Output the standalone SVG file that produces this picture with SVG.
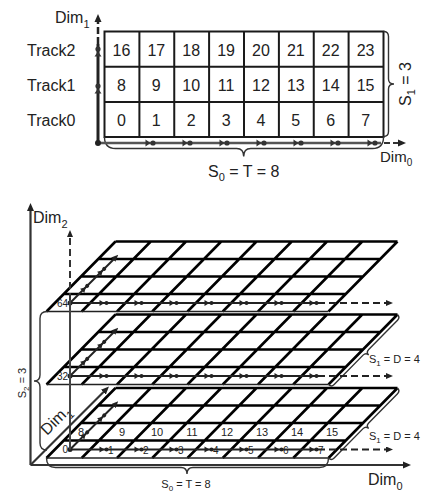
<svg xmlns="http://www.w3.org/2000/svg" xmlns:xlink="http://www.w3.org/1999/xlink" width="423" height="497" viewBox="0 0 423 497">
<style>
text{font-family:"Liberation Sans",Arial,sans-serif;fill:#222}
.t16{font-size:16px}
.t15{font-size:15px}
.t11{font-size:11px}
.t10{font-size:10px}
.grid{fill:none;stroke:#1a1a1a;stroke-width:2}
.pg{fill:none;stroke:#000;stroke-width:2.6}
.pe{fill:none;stroke:#222;stroke-width:1.4}
.brace{fill:none;stroke:#333;stroke-width:1.4}
.ax{fill:none;stroke:#333;stroke-width:2.2}
.trk{fill:none;stroke:#222;stroke-width:2}
.dash{stroke-dasharray:7 4}
</style>
<defs>
<marker id="ah" viewBox="0 0 8 8" refX="1" refY="4" markerWidth="8" markerHeight="8" markerUnits="userSpaceOnUse" orient="auto"><path d="M0,0.5L8,4L0,7.5z" fill="#222"/></marker>
<marker id="ahs" viewBox="0 0 7 6" refX="1" refY="3" markerWidth="7" markerHeight="6" markerUnits="userSpaceOnUse" orient="auto"><path d="M0,0L7,3L0,6z" fill="#222"/></marker>
<g id="mk"><path d="M-2.5,-3.5L2.5,0L-2.5,3.5z"/><circle cx="5" cy="0" r="2.6"/></g>
<g id="mk2"><path d="M-2.5,-3L2.5,0L-2.5,3z"/><circle cx="4.5" cy="0" r="2"/></g>
<g id="plane">
<path class="pg" d="M63.75,440.5H345.75M81,423H363M98.25,405.5H380.25M115.5,388H397.5M46.5,458L115.5,388M81.75,458L150.75,388M117,458L186,388M152.25,458L221.25,388M187.5,458L256.5,388M222.75,458L291.75,388M258,458L327,388M293.25,458L362.25,388M328.5,458L397.5,388"/>
<path class="pe" d="M46.5,458H328.5"/>
</g>
<g id="track" fill="#222">
<path class="trk" d="M70,449.5H318"/>
<path class="trk dash" d="M318,449.5H387" marker-end="url(#ahs)"/>
<path class="trk" d="M70,449.5L114,405.5" marker-end="url(#ahs)"/>
<circle cx="70" cy="449.5" r="2.5"/>
<use xlink:href="#mk2" x="102" y="449.5"/>
<use xlink:href="#mk2" x="137" y="449.5"/>
<use xlink:href="#mk2" x="172" y="449.5"/>
<use xlink:href="#mk2" x="207" y="449.5"/>
<use xlink:href="#mk2" x="242" y="449.5"/>
<use xlink:href="#mk2" x="277" y="449.5"/>
<use xlink:href="#mk2" x="312" y="449.5"/>
<use xlink:href="#mk2" transform="translate(84,435.5) rotate(-45)"/>
<use xlink:href="#mk2" transform="translate(101,418.5) rotate(-45)"/>
</g>
</defs>

<!-- ===== Top 2D layout ===== -->
<g id="grid2d">
<rect class="grid" x="104.5" y="31.5" width="279" height="105.5"/>
<path class="grid" d="M104.5,66.7H383.5M104.5,101.9H383.5M139.4,31.5V137M174.25,31.5V137M209.1,31.5V137M244,31.5V137M278.9,31.5V137M313.75,31.5V137M348.6,31.5V137"/>
</g>
<g id="track2" class="t16" text-anchor="middle">
<text x="121.4" y="55.5">16</text><text x="156.3" y="55.5">17</text><text x="191.2" y="55.5">18</text><text x="226.1" y="55.5">19</text><text x="260.9" y="55.5">20</text><text x="295.8" y="55.5">21</text><text x="330.7" y="55.5">22</text><text x="365.6" y="55.5">23</text>
<text x="27" y="55.5" text-anchor="start">Track2</text>
</g>
<g id="track1" class="t16" text-anchor="middle">
<text x="121.4" y="91">8</text><text x="156.3" y="91">9</text><text x="191.2" y="91">10</text><text x="226.1" y="91">11</text><text x="260.9" y="91">12</text><text x="295.8" y="91">13</text><text x="330.7" y="91">14</text><text x="365.6" y="91">15</text>
<text x="27" y="91" text-anchor="start">Track1</text>
</g>
<g id="track0" class="t16" text-anchor="middle">
<text x="121.4" y="126">0</text><text x="156.3" y="126">1</text><text x="191.2" y="126">2</text><text x="226.1" y="126">3</text><text x="260.9" y="126">4</text><text x="295.8" y="126">5</text><text x="330.7" y="126">6</text><text x="365.6" y="126">7</text>
<text x="27" y="126" text-anchor="start">Track0</text>
</g>
<g id="annot2d">
<path class="brace" d="M383.5,31.5Q388.5,31.5 388.5,36.5V79Q388.5,84 394,84Q388.5,84 388.5,89V131.5Q388.5,136.5 383.5,136.5"/>
<path class="brace" d="M104.5,137Q104.5,148.5 115.5,148.5H236.7Q243.7,148.5 243.7,156.5Q243.7,148.5 250.7,148.5H372.5Q383.5,148.5 383.5,137"/>
<text class="t16" x="55" y="23">Dim<tspan font-size="11" dy="5">1</tspan></text>
<text class="t15" x="380" y="161.5">Dim<tspan font-size="10" dy="4.5">0</tspan></text>
<text class="t16" x="243.7" y="176.5" text-anchor="middle">S<tspan font-size="11" dy="4">0</tspan><tspan dy="-4"> = T = 8</tspan></text>
<text class="t16" transform="translate(411,84) rotate(-90)" text-anchor="middle">S<tspan font-size="11" dy="4">1</tspan><tspan dy="-4"> = 3</tspan></text>
</g>

<!-- ===== Bottom 3D layout ===== -->
<g id="plane-d2" transform="translate(0,-146.5)"><use xlink:href="#plane"/><text class="t10" x="68" y="453" text-anchor="end">64</text></g>
<g id="plane-d1" transform="translate(0,-73.5)"><use xlink:href="#plane"/><text class="t10" x="68" y="453" text-anchor="end">32</text></g>
<g id="plane-d0"><use xlink:href="#plane"/>
<text class="t10" x="68" y="453" text-anchor="end">0</text>
<g class="t11" text-anchor="middle">
<text x="81" y="435.5">8</text><text x="122" y="435.5">9</text><text x="157" y="435.5">10</text><text x="192" y="435.5">11</text><text x="227" y="435.5">12</text><text x="262" y="435.5">13</text><text x="297" y="435.5">14</text><text x="332" y="435.5">15</text>
</g>
<g class="t10">
<text x="108" y="453.5">1</text><text x="143" y="453.5">2</text><text x="178" y="453.5">3</text><text x="213" y="453.5">4</text><text x="248" y="453.5">5</text><text x="283" y="453.5">6</text><text x="318" y="453.5">7</text>
</g>
</g>

<g id="annot3d">
<path class="brace" transform="translate(397.5,314.5) rotate(134.59)" d="M0,0Q0,-4 4,-4L45.1,-4Q49.1,-4 49.1,-8Q49.1,-4 53.1,-4L94.3,-4Q98.3,-4 98.3,0"/>
<path class="brace" transform="translate(397.5,388) rotate(134.59)" d="M0,0Q0,-4 4,-4L45.1,-4Q49.1,-4 49.1,-8Q49.1,-4 53.1,-4L94.3,-4Q98.3,-4 98.3,0"/>
<path class="brace" d="M46.5,458Q46.5,467.5 55.5,467.5H181Q187,467.5 187,474Q187,467.5 193,467.5H319.5Q328.5,467.5 328.5,458"/>
<path class="brace" d="M47,311.5Q40,311.5 40,318.5V375Q40,381 34,381Q40,381 40,387V443Q40,450 47,450"/>
<text class="t11" x="369" y="363">S<tspan font-size="8" dy="3">1</tspan><tspan dy="-3"> = D = 4</tspan></text>
<text class="t11" x="369" y="440">S<tspan font-size="8" dy="3">1</tspan><tspan dy="-3"> = D = 4</tspan></text>
<text class="t11" x="186" y="488" text-anchor="middle">S<tspan font-size="8" dy="3">0</tspan><tspan dy="-3"> = T = 8</tspan></text>
<text class="t11" transform="translate(26,383) rotate(-90)" text-anchor="middle">S<tspan font-size="8" dy="3">2</tspan><tspan dy="-3"> = 3</tspan></text>
<text class="t16" x="33" y="223">Dim<tspan font-size="11" dy="5">2</tspan></text>
<text class="t16" x="368" y="485">Dim<tspan font-size="11" dy="5">0</tspan></text>
<text class="t16" transform="translate(47,436) rotate(-45)">Dim<tspan font-size="11" dy="5">1</tspan></text>
</g>

<g id="connectors">
<!-- top figure axes -->
<path d="M98,143H381" fill="none" stroke="#555" stroke-width="2.5"/>
<path d="M384,143H399" fill="none" stroke="#333" stroke-width="2.2" stroke-dasharray="6 3" marker-end="url(#ah)"/>
<path d="M98,143V44" fill="none" stroke="#222" stroke-width="3"/>
<path d="M98,44V21" fill="none" stroke="#222" stroke-width="2.5" stroke-dasharray="7 3" marker-end="url(#ah)"/>
<circle cx="98" cy="143" r="3" fill="#222"/>
<g fill="#333">
<use xlink:href="#mk" x="148" y="143"/><use xlink:href="#mk" x="185" y="143"/><use xlink:href="#mk" x="222" y="143"/><use xlink:href="#mk" x="259" y="143"/><use xlink:href="#mk" x="296" y="143"/><use xlink:href="#mk" x="333" y="143"/><use xlink:href="#mk" x="370" y="143"/>
<use xlink:href="#mk" transform="translate(98,54) rotate(-90)"/>
<use xlink:href="#mk" transform="translate(98,91) rotate(-90)"/>
</g>
<!-- 3D tracks -->
<use xlink:href="#track" transform="translate(0,-146.5)"/>
<use xlink:href="#track" transform="translate(0,-73.5)"/>
<use xlink:href="#track"/>
<!-- inner Dim2 -->
<path d="M70,449.5V300" fill="none" stroke="#444" stroke-width="2"/>
<path class="dash" d="M70,300V236" fill="none" stroke="#333" stroke-width="2" marker-end="url(#ahs)"/>
<!-- main axes -->
<path class="ax" d="M30.5,465V210" marker-end="url(#ah)"/>
<path class="ax" d="M30.5,465H404" marker-end="url(#ah)"/>
<path class="ax" d="M30.5,465L104,391.5" marker-end="url(#ah)"/>
</g>
</svg>
